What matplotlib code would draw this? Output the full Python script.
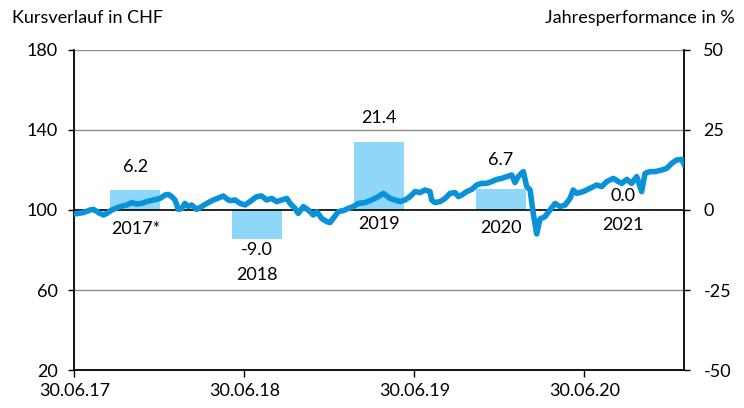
import numpy as np
import matplotlib.pyplot as plt

# share price in CHF, time as decimal year (30.06.17 = 2017.5)
t = [2017.500, 2017.553, 2017.593, 2017.612, 2017.651, 2017.671, 2017.691, 2017.720,
     2017.769, 2017.808, 2017.838, 2017.867, 2017.897, 2017.926, 2017.964, 2018.004,
     2018.034, 2018.053, 2018.073, 2018.092, 2018.112, 2018.132, 2018.151, 2018.170,
     2018.190, 2018.220, 2018.249, 2018.279, 2018.318, 2018.357, 2018.376, 2018.406,
     2018.416, 2018.446, 2018.475, 2018.504, 2018.533, 2018.573, 2018.602, 2018.631,
     2018.661, 2018.690, 2018.720, 2018.750, 2018.769, 2018.798, 2018.817, 2018.847,
     2018.876, 2018.906, 2018.926, 2018.955, 2018.985, 2019.004, 2019.023, 2019.053,
     2019.082, 2019.112, 2019.141, 2019.171, 2019.210, 2019.249, 2019.288, 2019.318,
     2019.357, 2019.386, 2019.416, 2019.445, 2019.475, 2019.504, 2019.534, 2019.562,
     2019.592, 2019.602, 2019.621, 2019.651, 2019.681, 2019.710, 2019.740, 2019.759,
     2019.779, 2019.808, 2019.838, 2019.867, 2019.896, 2019.925, 2019.955, 2019.985,
     2020.014, 2020.044, 2020.073, 2020.092, 2020.111, 2020.141, 2020.161, 2020.181,
     2020.200, 2020.220, 2020.239, 2020.269, 2020.298, 2020.328, 2020.357, 2020.387,
     2020.416, 2020.435, 2020.455, 2020.494, 2020.533, 2020.573, 2020.602, 2020.632,
     2020.671, 2020.700, 2020.720, 2020.750, 2020.778, 2020.808, 2020.837, 2020.857,
     2020.886, 2020.916, 2020.956, 2020.984, 2021.014, 2021.043, 2021.073, 2021.086]
kurs = [98.0, 98.7, 100.0, 100.3, 98.3, 97.5, 98.3, 100.0,
        101.7, 102.5, 103.7, 103.0, 103.3, 104.2, 105.0, 105.8,
        107.5, 107.8, 106.7, 105.0, 100.3, 100.8, 103.3, 101.7,
        102.5, 100.3, 101.7, 103.3, 105.0, 106.3, 107.0, 105.0,
        104.7, 105.0, 103.3, 102.5, 104.2, 106.7, 107.0, 105.0,
        105.8, 104.2, 105.0, 105.8, 103.3, 100.8, 98.3, 101.7,
        100.0, 97.5, 99.2, 95.8, 94.2, 93.7, 95.8, 99.2,
        99.7, 100.8, 101.7, 103.3, 103.7, 105.0, 106.7, 108.3,
        105.8, 105.0, 104.2, 105.0, 106.7, 109.2, 108.7, 110.0,
        109.2, 105.0, 103.7, 104.2, 105.8, 108.3, 108.7, 106.7,
        107.5, 109.2, 110.3, 112.5, 113.3, 113.3, 114.2, 115.3,
        115.8, 116.7, 117.5, 113.7, 116.7, 119.2, 111.7, 110.0,
        98.0, 88.0, 95.5, 96.7, 100.0, 103.3, 101.7, 102.5,
        105.8, 110.0, 108.3, 109.2, 110.8, 112.5, 111.7, 114.2,
        115.8, 114.2, 113.3, 115.3, 113.3, 116.7, 109.2, 118.3,
        119.2, 119.2, 120.0, 120.8, 123.3, 125.0, 125.3, 123.0]

# yearly performance in %
jahre = ['2017*', '2018', '2019', '2020', '2021']
perf = [6.2, -9.0, 21.4, 6.7, 0.0]
# label offsets in points (value label, year label)
off_val = [11, -2, 11, 15, 4]
off_jahr = [-8, -20, -4, -7, -5]

xticks = [2017.5, 2018.5, 2019.5, 2020.5]
xticklabels = ['30.06.17', '30.06.18', '30.06.19', '30.06.20']

plt.rcParams['font.family'] = ['Lato', 'DejaVu Sans']
plt.rcParams['font.size'] = 13
plt.rcParams['axes.unicode_minus'] = False

col_line = '#0a92d8'
col_bar = '#8ed7fb'

fig = plt.figure(figsize=(7.44, 4.08), dpi=100)
rect = [0.0999, 0.0931, 0.8194, 0.7844]

#-- bar axes (right scale)
axb = fig.add_axes(rect)
axb.bar(np.arange(len(jahre)), perf, width=0.41, color=col_bar, zorder=2)
axb.set_xlim(-0.5, len(jahre) - 0.5)
axb.set_ylim(-50, 50)
axb.set_yticks([-50, -25, 0, 25, 50])
axb.yaxis.tick_right()
axb.tick_params(axis='y', direction='out', length=4, pad=10, width=1)
axb.set_xticks([])
for s in axb.spines.values():
    s.set_visible(False)
for i, (j, p) in enumerate(zip(jahre, perf)):
    if p >= 0:
        axb.annotate('%.1f' % p, (i, p), xytext=(0, off_val[i]), textcoords='offset points',
                     ha='center', va='bottom', zorder=5)
        axb.annotate(j, (i, 0), xytext=(0, off_jahr[i]), textcoords='offset points',
                     ha='center', va='top', zorder=5)
    else:
        axb.annotate('%.1f' % p, (i, p), xytext=(0, off_val[i]), textcoords='offset points',
                     ha='center', va='top', zorder=5)
        axb.annotate(j, (i, p), xytext=(0, off_jahr[i]), textcoords='offset points',
                     ha='center', va='top', zorder=5)

#-- line axes (left scale, time)
ax = fig.add_axes(rect)
ax.patch.set_visible(False)
ax.set_ylim(20, 180)
ax.set_yticks([20, 60, 100, 140, 180])
ax.set_xlim(2017.5, 2021.086)
ax.set_xticks(xticks)
ax.set_xticklabels(xticklabels)
ax.tick_params(axis='y', direction='out', length=4, pad=8, width=1)
ax.tick_params(axis='x', direction='out', length=5, pad=4, width=1)
for yg in [60, 140, 180]:
    ax.axhline(yg, color='#8c8c8c', lw=1, zorder=0)
ax.axhline(100, color='black', lw=1.2, zorder=1)
ax.spines['top'].set_visible(False)
for s in ['left', 'right', 'bottom']:
    ax.spines[s].set_linewidth(1.3)
ax.plot(t, kurs, color=col_line, lw=4, solid_joinstyle='round', zorder=3)

fig.text(0.016, 0.975, 'Kursverlauf in CHF', ha='left', va='top', fontsize=13)
fig.text(0.988, 0.975, 'Jahresperformance in %', ha='right', va='top', fontsize=13)

plt.savefig('out.png', dpi=100)
